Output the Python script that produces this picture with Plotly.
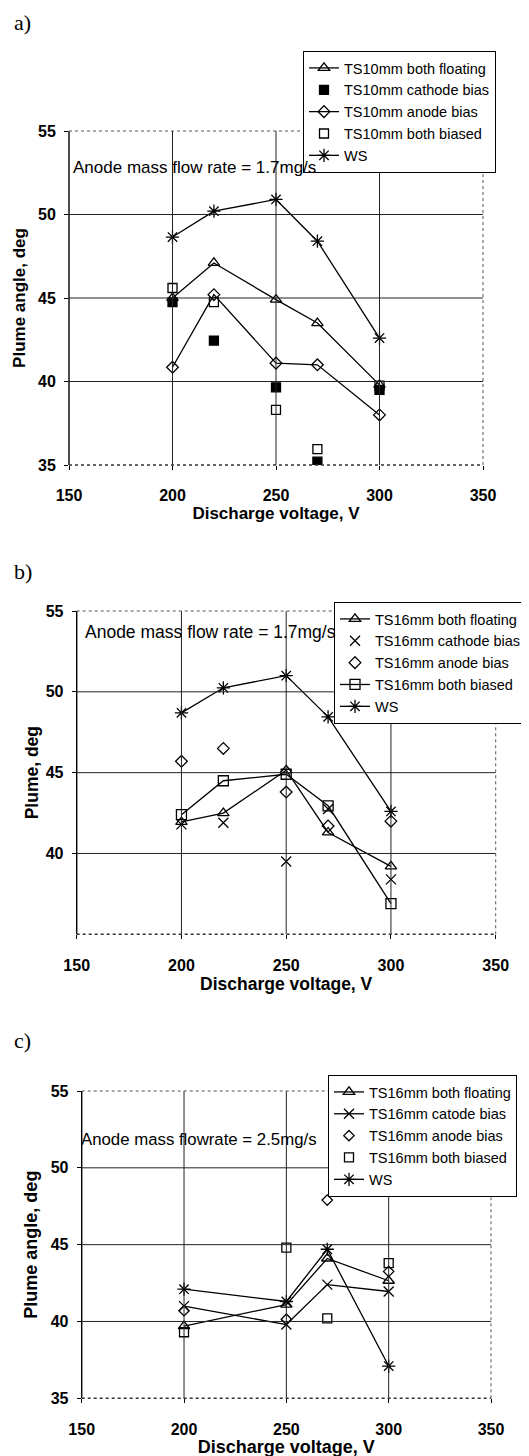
import plotly.graph_objects as go

W, H = 529, 1456
OFF = 8  # default page body margin of the written html

# ---------------- data ----------------
volt_a = [200, 220, 250, 270, 300]
a_floating = [45.0, 47.1, 44.9, 43.5, 39.8]
a_cathode = [44.75, 42.45, 39.65, 35.2, 39.5]
a_anode = [40.85, 45.2, 41.1, 41.0, 38.0]
a_biased = [45.6, 44.75, 38.3, 35.95, 39.75]
a_ws = [48.65, 50.2, 50.9, 48.4, 42.6]

volt_b = [200, 220, 250, 270, 300]
b_floating = [41.95, 42.5, 45.15, 41.3, 39.2]
b_cathode = [41.8, 41.9, 39.5, 42.75, 38.4]
b_anode = [45.7, 46.5, 43.8, 41.7, 42.0]
b_biased = [42.4, 44.5, 44.9, 42.95, 36.9]
b_ws = [48.7, 50.25, 51.0, 48.45, 42.6]

volt_c = [200, 250, 270, 300]
c_floating = [39.7, 41.1, 44.1, 42.65]
c_cathode = [41.0, 39.8, 42.4, 41.95]
c_anode = [40.7, 40.15, 47.9, 43.26]
c_biased = [39.3, 44.8, 40.2, 43.8]
c_ws = [42.1, 41.3, 44.7, 37.1]

x_ticks = [150, 200, 250, 300, 350]
y_ticks = [35, 40, 45, 50, 55]
y_ticks_b = [40, 45, 50, 55]
x_grid = [200, 250, 300]
y_grid = [40, 45, 50]

# ---------------- layout helpers ----------------
def px_x(p):
    return (p - OFF) / W

def px_y(p):
    return 1 - (p - OFF) / H

FONT = "Liberation Sans, Arial, sans-serif"
panels = [
    # (x0px, x1px, ytop px, ybottom px, tick font, title font, y-title standoff)
    (69, 483, 131, 465, 16, 17, 8),
    (76.7, 495.7, 611, 934.3, 16, 17.5, 2),
    (81.7, 491, 1091, 1398.3, 16, 18, 8),
]

fig = go.Figure()

def add(i, name, x, y, symbol, mode, size=8, legend="legend"):
    ax = "" if i == 0 else str(i + 1)
    marker = dict(symbol=symbol, size=size, color="black",
                  line=dict(color="black", width=1.3))
    fig.add_trace(go.Scatter(
        x=x, y=y, name=name, mode=mode, marker=marker,
        line=dict(color="black", width=1.3),
        xaxis="x" + ax, yaxis="y" + ax, legend=legend, showlegend=True))

# panel a
add(0, "TS10mm both floating", volt_a, a_floating, "triangle-up-open", "lines+markers", 10)
add(0, "TS10mm cathode bias", volt_a, a_cathode, "square", "markers", 9)
add(0, "TS10mm anode bias", volt_a, a_anode, "diamond-open", "lines+markers", 9)
add(0, "TS10mm both biased", volt_a, a_biased, "square-open", "markers", 9)
add(0, "WS", volt_a, a_ws, "asterisk-open", "lines+markers", 11)

# panel b
add(1, "TS16mm both floating", volt_b, b_floating, "triangle-up-open", "lines+markers", 10, legend="legend2")
add(1, "TS16mm cathode bias", volt_b, b_cathode, "x-thin-open", "markers", 10, legend="legend2")
add(1, "TS16mm anode bias", volt_b, b_anode, "diamond-open", "markers", 9, legend="legend2")
add(1, "TS16mm both biased", volt_b, b_biased, "square-open", "lines+markers", 10, legend="legend2")
add(1, "WS", volt_b, b_ws, "asterisk-open", "lines+markers", 11, legend="legend2")

# panel c
add(2, "TS16mm both floating", volt_c, c_floating, "triangle-up-open", "lines+markers", 10, legend="legend3")
add(2, "TS16mm catode bias", volt_c, c_cathode, "x-thin-open", "lines+markers", 10, legend="legend3")
add(2, "TS16mm anode bias", volt_c, c_anode, "diamond-open", "markers", 8, legend="legend3")
add(2, "TS16mm both biased", volt_c, c_biased, "square-open", "markers", 9, legend="legend3")
add(2, "WS", volt_c, c_ws, "asterisk-open", "lines+markers", 11, legend="legend3")

layout = dict(
    width=W, height=H, margin=dict(l=0, r=0, t=0, b=0, autoexpand=False),
    paper_bgcolor="white", plot_bgcolor="white",
    font=dict(family=FONT, color="black", size=13),
    showlegend=True,
)

ytitles = ["Plume angle, deg", "Plume, deg", "Plume angle, deg"]
shapes = []
for i, (x0, x1, yt, yb, tf, ttf, ysd) in enumerate(panels):
    ax = "" if i == 0 else str(i + 1)
    key = "" if i == 0 else str(i + 1)
    yt_vals = y_ticks_b if i == 1 else y_ticks
    layout["xaxis" + key] = dict(
        domain=[px_x(x0), px_x(x1)], range=[150, 350], anchor="y" + ax,
        tickvals=x_ticks, ticktext=["<b>%d</b>" % v for v in x_ticks],
        ticks="outside", ticklen=4, tickcolor="black", ticklabelstandoff=12,
        showgrid=False, zeroline=False, showline=False, automargin=False,
        tickfont=dict(family=FONT, size=tf),
        title=dict(text="<b>Discharge voltage, V</b>", standoff=0,
                   font=dict(family=FONT, size=ttf)),
    )
    layout["yaxis" + key] = dict(
        domain=[px_y(yb), px_y(yt)], range=[35, 55], anchor="x" + ax,
        tickvals=yt_vals, ticktext=["<b>%d</b>" % v for v in yt_vals],
        ticks="outside", ticklen=4, ticklabelstandoff=5,
        tickcolor="black", showgrid=False, zeroline=False, showline=False,
        automargin=False,
        tickfont=dict(family=FONT, size=tf),
        title=dict(text="<b>" + ytitles[i] + "</b>", standoff=ysd,
                   font=dict(family=FONT, size=ttf)),
    )
    xr, yr = "x" + ax, "y" + ax
    for gx in x_grid:
        shapes.append(dict(type="line", xref=xr, yref=yr + " domain", x0=gx, x1=gx,
                           y0=0, y1=1, line=dict(color="#222", width=1)))
    for gy in y_grid:
        shapes.append(dict(type="line", xref=xr + " domain", yref=yr, x0=0, x1=1,
                           y0=gy, y1=gy, line=dict(color="#222", width=1)))
    # borders
    shapes.append(dict(type="line", xref=xr + " domain", yref=yr + " domain",
                       x0=0, x1=0, y0=0, y1=1, line=dict(color="black", width=1.4)))
    shapes.append(dict(type="line", xref=xr + " domain", yref=yr + " domain",
                       x0=0, x1=1, y0=0, y1=0, line=dict(color="#333", width=1.4, dash="dot")))
    shapes.append(dict(type="line", xref=xr + " domain", yref=yr + " domain",
                       x0=0, x1=1, y0=1, y1=1, line=dict(color="#555", width=1, dash="dot")))
    shapes.append(dict(type="line", xref=xr + " domain", yref=yr + " domain",
                       x0=1, x1=1, y0=0, y1=1, line=dict(color="#555", width=1, dash="dot")))

layout["shapes"] = shapes

leg_common = dict(bgcolor="white", bordercolor="black", borderwidth=1,
                  xanchor="left", yanchor="top", tracegroupgap=0, itemwidth=30)
layout["legend"] = dict(leg_common, x=px_x(303), y=px_y(51),
                        font=dict(family=FONT, size=14.5))
layout["legend2"] = dict(leg_common, x=px_x(334), y=px_y(602),
                         font=dict(family=FONT, size=14.5))
layout["legend3"] = dict(leg_common, x=px_x(328), y=px_y(1075),
                         font=dict(family=FONT, size=14.5))

ann = []
for txt, yy in [("a)", 23), ("b)", 572), ("c)", 1040)]:
    ann.append(dict(text=txt, x=px_x(12), y=px_y(yy), xref="paper", yref="paper",
                    xanchor="left", yanchor="middle", showarrow=False,
                    font=dict(family="Liberation Serif, Times New Roman, serif", size=22)))
for txt, xx, yy, fs in [("Anode mass flow rate = 1.7mg/s", 71, 167, 17),
                        ("Anode mass flow rate = 1.7mg/s", 83, 632, 17.5),
                        ("Anode mass flowrate = 2.5mg/s", 79, 1139, 16.8)]:
    ann.append(dict(text=txt, x=px_x(xx), y=px_y(yy), xref="paper", yref="paper",
                    xanchor="left", yanchor="middle", showarrow=False,
                    font=dict(family=FONT, size=fs)))
layout["annotations"] = ann

fig.update_layout(layout)
fig.write_html("out.html")
